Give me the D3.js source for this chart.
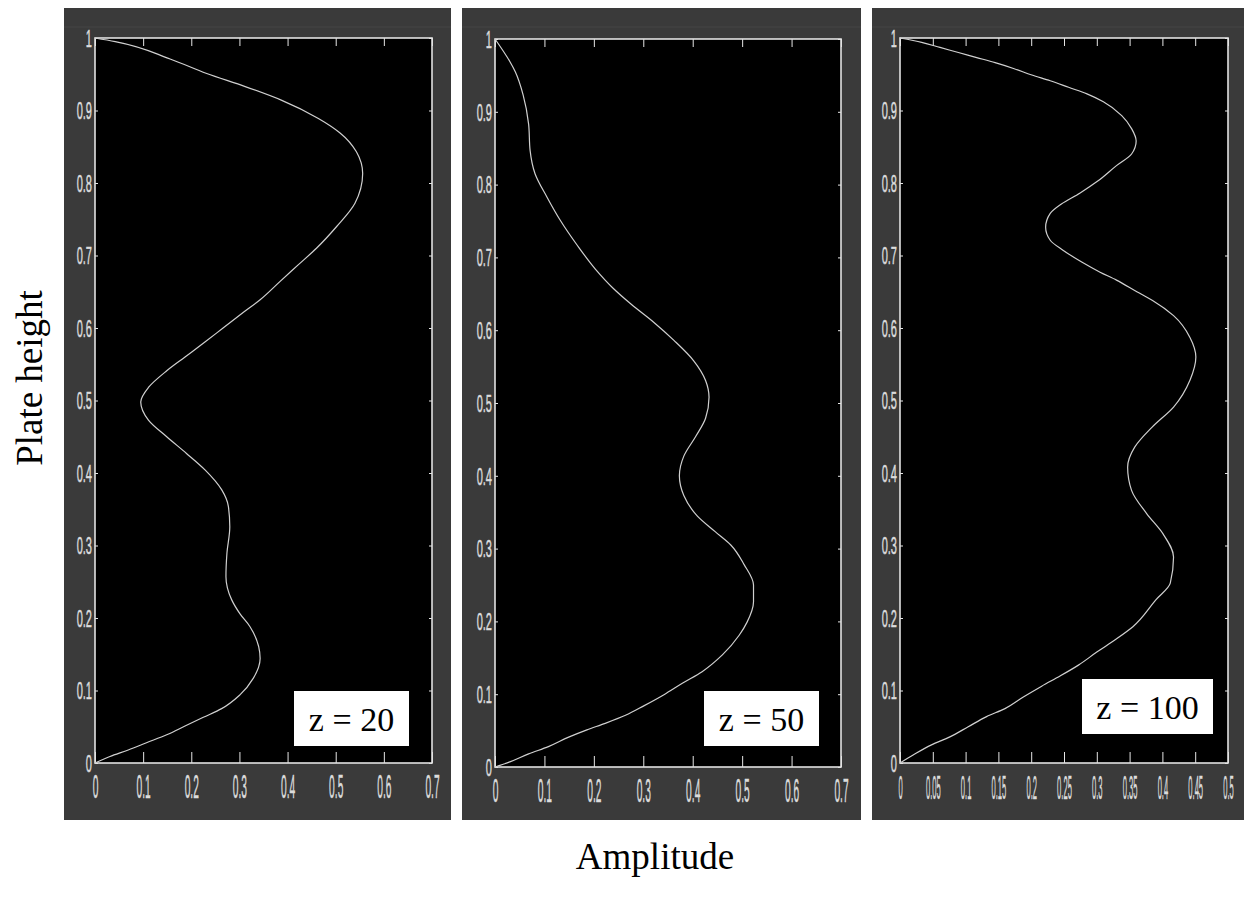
<!DOCTYPE html>
<html>
<head>
<meta charset="utf-8">
<script src="https://cdn.jsdelivr.net/npm/d3@7"></script>
<style>
  body { margin: 0; background: #fff; }
  .tick line { stroke: #e6e6e6; }
  .tick text { fill: #dcdcdc; stroke: #dcdcdc; stroke-width: 0.5px; font-family: "Liberation Sans", Arial, sans-serif; }
</style>
</head>
<body>
<div id="chart"></div>
<script>
// data: plate height (0..1) and amplitude for each z
var height20 = [0, 0.009, 0.018, 0.028, 0.039, 0.051, 0.063, 0.075, 0.094, 0.117, 0.144, 0.188, 0.205, 0.225, 0.257, 0.289,
    0.326, 0.354, 0.377, 0.404, 0.427, 0.450, 0.473, 0.498, 0.518, 0.541, 0.560, 0.581, 0.600, 0.620, 0.639,
    0.664, 0.687, 0.710, 0.740, 0.772, 0.813, 0.843, 0.869, 0.889, 0.914, 0.933, 0.951, 0.971, 0.995, 1];
var amp20 = [0, 0.031, 0.069, 0.107, 0.149, 0.187, 0.225, 0.263, 0.301, 0.329, 0.343, 0.322, 0.302, 0.284, 0.272, 0.274,
    0.280, 0.277, 0.263, 0.229, 0.190, 0.149, 0.111, 0.095, 0.111, 0.149, 0.187, 0.229, 0.266, 0.305, 0.343,
    0.384, 0.422, 0.460, 0.502, 0.540, 0.556, 0.543, 0.509, 0.464, 0.388, 0.312, 0.232, 0.156, 0.042, 0];

var height50 = [0, 0.007, 0.018, 0.028, 0.041, 0.051, 0.060, 0.071, 0.084, 0.099, 0.115, 0.131, 0.154, 0.181, 0.199,
    0.227, 0.250, 0.278, 0.305, 0.323, 0.345, 0.373, 0.400, 0.427, 0.454, 0.479, 0.508, 0.531, 0.558, 0.586,
    0.611, 0.636, 0.657, 0.684, 0.717, 0.751, 0.783, 0.815, 0.847, 0.883, 0.923, 0.955, 0.969, 1];
var amp50 = [0, 0.030, 0.068, 0.108, 0.149, 0.186, 0.223, 0.264, 0.301, 0.341, 0.379, 0.419, 0.460, 0.494, 0.510,
    0.523, 0.523, 0.504, 0.477, 0.446, 0.409, 0.382, 0.373, 0.382, 0.406, 0.426, 0.433, 0.426, 0.402, 0.362,
    0.321, 0.275, 0.240, 0.203, 0.166, 0.132, 0.105, 0.081, 0.071, 0.068, 0.057, 0.041, 0.030, 0];

var height100 = [0, 0.011, 0.025, 0.036, 0.050, 0.064, 0.075, 0.091, 0.106, 0.120, 0.135, 0.153, 0.170, 0.188, 0.225,
    0.248, 0.284, 0.316, 0.344, 0.376, 0.408, 0.436, 0.463, 0.491, 0.528, 0.560, 0.587, 0.617, 0.638, 0.650,
    0.666, 0.677, 0.691, 0.707, 0.721, 0.739, 0.758, 0.771, 0.786, 0.803, 0.824, 0.840, 0.858, 0.875, 0.893,
    0.912, 0.923, 0.932, 0.941, 0.949, 0.958, 0.966, 0.973, 0.980, 0.987, 0.994, 1];
var amp100 = [0, 0.020, 0.048, 0.076, 0.104, 0.132, 0.160, 0.188, 0.216, 0.244, 0.272, 0.300, 0.328, 0.355, 0.390,
    0.412, 0.417, 0.401, 0.376, 0.353, 0.347, 0.358, 0.384, 0.417, 0.442, 0.451, 0.442, 0.417, 0.385, 0.361,
    0.330, 0.305, 0.277, 0.249, 0.229, 0.222, 0.229, 0.246, 0.274, 0.302, 0.330, 0.353, 0.360, 0.353, 0.338,
    0.310, 0.285, 0.257, 0.229, 0.201, 0.173, 0.145, 0.117, 0.089, 0.061, 0.033, 0];

var ticksY = [0, 0.1, 0.2, 0.3, 0.4, 0.5, 0.6, 0.7, 0.8, 0.9, 1];
var ticksX7 = [0, 0.1, 0.2, 0.3, 0.4, 0.5, 0.6, 0.7];
var ticksX5 = [0, 0.05, 0.1, 0.15, 0.2, 0.25, 0.3, 0.35, 0.4, 0.45, 0.5];
var zLabels = ["z = 20", "z = 50", "z = 100"];

var svgWidth = 1244;
var svgHeight = 900;

var svg = d3.select("#chart")
    .append("svg")
    .attr("width", svgWidth)
    .attr("height", svgHeight)
    .style("display", "block");

// layout of each panel (the three figures are slightly different sizes)
var panels = [
    { bg: [64, 8, 451, 820], left: 95, right: 432, top: 38, bottom: 763, xMax: 0.7, xTicks: ticksX7, sx: 0.31,
      box: [294, 691, 409, 746], h: height20, a: amp20, label: zLabels[0] },
    { bg: [462, 8, 861, 820], left: 495, right: 841, top: 39, bottom: 767, xMax: 0.7, xTicks: ticksX7, sx: 0.31,
      box: [704, 691, 819, 746], h: height50, a: amp50, label: zLabels[1] },
    { bg: [872, 8, 1244, 820], left: 900, right: 1228, top: 38, bottom: 763, xMax: 0.5, xTicks: ticksX5, sx: 0.23,
      box: [1082, 679, 1213, 734], h: height100, a: amp100, label: zLabels[2] }
];

var fmt = function (d) { return String(+d.toFixed(2)); };

panels.forEach(function (p) {
    // grey figure background
    svg.append("rect")
        .attr("x", p.bg[0]).attr("y", p.bg[1])
        .attr("width", p.bg[2] - p.bg[0]).attr("height", p.bg[3] - p.bg[1])
        .attr("fill", "#3a3a3a");
    svg.append("line")
        .attr("x1", p.bg[0]).attr("x2", p.bg[2])
        .attr("y1", 27).attr("y2", 27)
        .attr("stroke", "#444").attr("stroke-width", 1);

    var xScale = d3.scaleLinear().domain([0, p.xMax]).range([p.left, p.right]);
    var yScale = d3.scaleLinear().domain([0, 1]).range([p.bottom, p.top]);

    // black plot area
    svg.append("rect")
        .attr("x", p.left).attr("y", p.top)
        .attr("width", p.right - p.left).attr("height", p.bottom - p.top)
        .attr("fill", "#000");

    // bottom axis, ticks pointing in
    var xAxis = svg.append("g")
        .attr("transform", `translate(0, ${p.bottom})`)
        .call(d3.axisBottom(xScale).tickValues(p.xTicks).tickSizeInner(-11).tickSizeOuter(0).tickFormat(fmt));
    xAxis.select(".domain").remove();
    xAxis.selectAll(".tick text")
        .attr("y", null).attr("dy", null)
        .attr("font-size", 33)
        .attr("dominant-baseline", "central")
        .attr("transform", `translate(0, 24) scale(${p.sx}, 1)`);

    // top axis, no labels
    var topAxis = svg.append("g")
        .attr("transform", `translate(0, ${p.top})`)
        .call(d3.axisTop(xScale).tickValues(p.xTicks).tickSizeInner(-8).tickSizeOuter(0).tickFormat(""));
    topAxis.select(".domain").remove();

    // left axis
    var yAxis = svg.append("g")
        .attr("transform", `translate(${p.left}, 0)`)
        .call(d3.axisLeft(yScale).tickValues(ticksY).tickSizeInner(-3).tickSizeOuter(0).tickFormat(fmt));
    yAxis.select(".domain").remove();
    yAxis.selectAll(".tick text")
        .attr("x", null).attr("dy", null)
        .attr("font-size", 24)
        .attr("dominant-baseline", "central")
        .attr("text-anchor", "end")
        .attr("transform", "translate(-3, 0) scale(0.46, 1)");

    // right axis, no labels
    var rightAxis = svg.append("g")
        .attr("transform", `translate(${p.right}, 0)`)
        .call(d3.axisRight(yScale).tickValues(ticksY).tickSizeInner(-3).tickSizeOuter(0).tickFormat(""));
    rightAxis.select(".domain").remove();

    // box frame
    svg.append("rect")
        .attr("x", p.left).attr("y", p.top)
        .attr("width", p.right - p.left).attr("height", p.bottom - p.top)
        .attr("fill", "none")
        .attr("stroke", "#e2e2e2")
        .attr("stroke-width", 1.6);

    // the mode shape
    var pts = p.h.map(function (h, i) { return { h: h, a: p.a[i] }; });
    var line = d3.line()
        .x(d => xScale(d.a))
        .y(d => yScale(d.h))
        .curve(d3.curveMonotoneY);
    svg.append("path")
        .datum(pts)
        .attr("d", line)
        .attr("fill", "none")
        .attr("stroke", "#d0d0d0")
        .attr("stroke-width", 1.2);

    // z label box
    svg.append("rect")
        .attr("x", p.box[0]).attr("y", p.box[1])
        .attr("width", p.box[2] - p.box[0]).attr("height", p.box[3] - p.box[1])
        .attr("fill", "#fff");
    svg.append("text")
        .attr("x", (p.box[0] + p.box[2]) / 2)
        .attr("y", (p.box[1] + p.box[3]) / 2 + 12)
        .attr("text-anchor", "middle")
        .attr("font-family", "'Liberation Serif', 'Times New Roman', serif")
        .attr("font-size", 34)
        .attr("fill", "#000")
        .text(p.label);
});

// shared axis titles
svg.append("text")
    .attr("transform", "translate(42, 378) rotate(-90)")
    .attr("text-anchor", "middle")
    .attr("font-family", "'Liberation Serif', 'Times New Roman', serif")
    .attr("font-size", 37)
    .attr("fill", "#000")
    .text("Plate height");

svg.append("text")
    .attr("x", 655)
    .attr("y", 869)
    .attr("text-anchor", "middle")
    .attr("font-family", "'Liberation Serif', 'Times New Roman', serif")
    .attr("font-size", 37)
    .attr("fill", "#000")
    .text("Amplitude");
</script>
</body>
</html>
